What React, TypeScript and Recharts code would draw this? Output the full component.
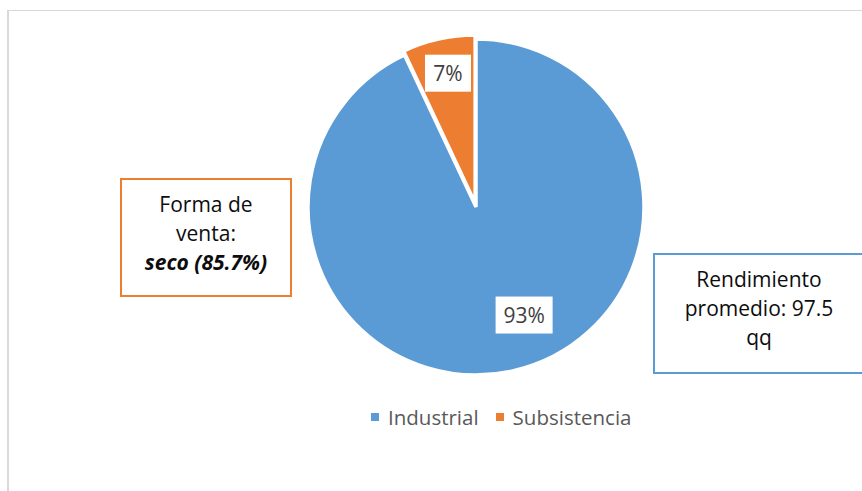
import React from 'react';
import { PieChart, Pie, Cell, Legend } from 'recharts';

const categories = ['Industrial', 'Subsistencia'];
const shares = [93, 7];
const colors = ['#5B9BD5', '#ED7D31'];
const leftNote = ['Forma de', 'venta:'];
const leftNoteEmph = 'seco (85.7%)';
const rightNote = ['Rendimiento', 'promedio: 97.5', 'qq'];

const data = categories.map((name, i) => ({ name, value: shares[i] }));

const FONT = '"Open Sans", "Noto Sans", sans-serif';
const RADIAN = Math.PI / 180;
// label placement (fraction of radius, angle shift in degrees) per slice
const labelRadius = [0.704, 0.79];
const labelShift = [11.4, -0.8];

const makeLabel = (only: number) => (props: any) => {
  const { cx, cy, midAngle, outerRadius, percent, index } = props;
  if (index !== only) return null;
  const a = (midAngle + labelShift[index]) * RADIAN;
  const r = outerRadius * labelRadius[index];
  const x = cx + r * Math.cos(-a);
  const y = cy + r * Math.sin(-a);
  const txt = `${Math.round(percent * 100)}%`;
  const w = 24 + 11 * txt.length;
  const h = 37;
  return (
    <g>
      <rect x={x - w / 2} y={y - h / 2} width={w} height={h} fill="#ffffff" />
      <text x={x} y={y} textAnchor="middle" dominantBaseline="central" fill="#404040"
        style={{ fontFamily: FONT, fontSize: 21 }}>{txt}</text>
    </g>
  );
};

const LegendContent = () => (
  <div style={{ display: 'flex', alignItems: 'center', fontFamily: FONT, fontSize: 20.5, color: '#595959' }}>
    {categories.map((c, i) => (
      <div key={c} style={{ display: 'flex', alignItems: 'center', marginRight: 17 }}>
        <span style={{ display: 'inline-block', width: 8, height: 8, background: colors[i], marginRight: 9 }} />
        <span>{c}</span>
      </div>
    ))}
  </div>
);

const boxText: React.CSSProperties = {
  position: 'absolute', boxSizing: 'border-box', fontFamily: FONT, fontSize: 21,
  lineHeight: '29px', textAlign: 'center', color: '#0d0d0d', background: '#fff', paddingTop: 9.5,
};

export default function App() {
  const cx = 476, cy = 207, R = 168;
  const explode = 4;
  const mid2 = 90 - (shares[0] / 100) * 360 - ((shares[1] / 100) * 360) / 2; // recharts mid angle
  const ex = explode * Math.cos(-mid2 * RADIAN);
  const ey = explode * Math.sin(-mid2 * RADIAN);
  return (
    <div style={{ position: 'absolute', left: 0, top: 0, width: 862, height: 491, overflow: 'hidden', background: '#fff' }}>
      <div style={{ position: 'absolute', left: 7, top: 10, width: 900, height: 520, borderLeft: '2px solid #d9d9d9', borderTop: '1px solid #d9d9d9' }} />
      <div style={{ position: 'absolute', left: 0, top: 0 }}>
        <PieChart width={862} height={491} margin={{ top: 0, right: 0, bottom: 0, left: 0 }}>
          <Pie data={data} dataKey="value" nameKey="name" cx={cx} cy={cy} outerRadius={R}
            startAngle={90} endAngle={-270} isAnimationActive={false} labelLine={false}
            label={makeLabel(0)} legendType="square">
            {data.map((d, i) => (
              <Cell key={d.name} fill={i === 0 ? colors[0] : 'transparent'} stroke={i === 0 ? '#ffffff' : 'none'} strokeWidth={3.5} />
            ))}
          </Pie>
          <Pie data={data} dataKey="value" nameKey="name" cx={cx + ex} cy={cy + ey} outerRadius={R}
            startAngle={90} endAngle={-270} isAnimationActive={false} labelLine={false}
            label={makeLabel(1)} legendType="none">
            {data.map((d, i) => (
              <Cell key={d.name} fill={i === 1 ? colors[1] : 'transparent'} stroke={i === 1 ? '#ffffff' : 'none'} strokeWidth={3.5} />
            ))}
          </Pie>
          <Legend content={<LegendContent />} wrapperStyle={{ position: 'absolute', left: 371, top: 403, width: 400, height: 28 }} />
        </PieChart>
      </div>
      <div style={{ ...boxText, left: 120, top: 178, width: 172, height: 119, border: '2px solid #ED7D31' }}>
        {leftNote.map((l) => <div key={l}>{l}</div>)}
        <div style={{ fontWeight: 'bold', fontStyle: 'italic' }}>{leftNoteEmph}</div>
      </div>
      <div style={{ ...boxText, left: 653, top: 253, width: 212, height: 121, border: '2px solid #5B9BD5' }}>
        {rightNote.map((l) => <div key={l}>{l}</div>)}
      </div>
    </div>
  );
}
